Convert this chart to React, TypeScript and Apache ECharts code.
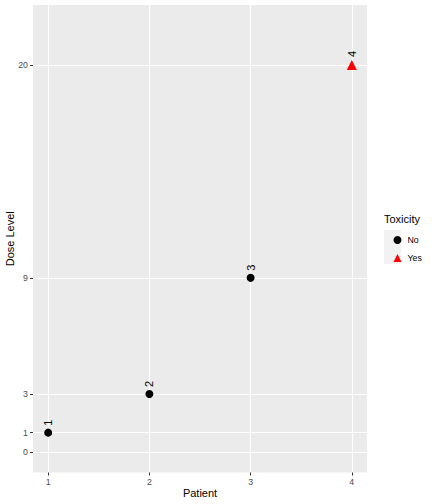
import React, { useEffect, useRef } from 'react';
import * as echarts from 'echarts';

// data
const patients = [1, 2, 3, 4];
const doseLevels = [1, 3, 9, 20];
const toxicity = ['No', 'No', 'No', 'Yes'];
const groups = ['No', 'Yes'];
const xTicks = [1, 2, 3, 4];
const yTicks = [0, 1, 3, 9, 20];

const FONT = 'Liberation Sans, Arial, sans-serif';

const App: React.FC = () => {
  const chartRef = useRef<HTMLDivElement>(null);

  useEffect(() => {
    document.body.style.margin = '0';
    if (!chartRef.current) return;
    const chart = echarts.init(chartRef.current, undefined, { renderer: 'svg' });

    const pointsFor = (group: string) =>
      patients
        .map((p, i) => ({ p, d: doseLevels[i], t: toxicity[i] }))
        .filter((r) => r.t === group)
        .map((r) => ({ value: [r.p, r.d], name: String(r.p) }));

    const gridLines = [
      ...xTicks.map((x) => ({ xAxis: x })),
      ...yTicks.map((y) => ({ yAxis: y })),
    ];

    const label = {
      show: true,
      position: 'top',
      rotate: 90,
      align: 'left',
      verticalAlign: 'middle',
      distance: 3,
      color: '#000000',
      fontSize: 11,
      fontFamily: FONT,
      formatter: (p: any) => p.name,
    };

    const option: any = {
      animation: false,
      textStyle: { fontFamily: FONT },
      grid: {
        left: 33,
        right: 65,
        top: 5,
        bottom: 31.5,
        outerBoundsMode: 'none',
        containLabel: false,
        show: true,
        backgroundColor: '#EBEBEB',
        borderWidth: 0,
      },
      xAxis: {
        type: 'value',
        min: 0.85,
        max: 4.15,
        name: 'Patient',
        nameLocation: 'middle',
        nameGap: 15,
        nameMoveOverlap: false,
        nameTextStyle: { color: '#000000', fontSize: 11, fontFamily: FONT },
        axisLine: { show: false, onZero: false },
        axisTick: { show: true, customValues: xTicks, length: 3, lineStyle: { color: '#333333' } },
        axisLabel: { customValues: xTicks, color: '#4D4D4D', fontSize: 8.8, margin: 5, fontFamily: FONT },
        splitLine: { show: false },
      },
      yAxis: {
        type: 'value',
        min: -1.06,
        max: 23.1,
        name: 'Dose Level',
        nameLocation: 'middle',
        nameRotate: 90,
        nameGap: 18,
        nameMoveOverlap: false,
        nameTextStyle: { color: '#000000', fontSize: 11, fontFamily: FONT },
        axisLine: { show: false, onZero: false },
        axisTick: { show: true, customValues: yTicks, length: 3, lineStyle: { color: '#333333' } },
        axisLabel: { customValues: yTicks, color: '#4D4D4D', fontSize: 8.8, margin: 5, fontFamily: FONT },
        splitLine: { show: false },
      },
      legend: {
        orient: 'vertical',
        left: 388.5,
        top: 230.5,
        itemWidth: 8,
        itemHeight: 8,
        itemGap: 9,
        selectedMode: false,
        textStyle: { color: '#000000', fontSize: 8.8, fontFamily: FONT, padding: [0, 0, 0, 1] },
        data: [
          { name: groups[0], icon: 'circle' },
          { name: groups[1], icon: 'triangle' },
        ],
      },
      graphic: [
        {
          type: 'text',
          left: 384,
          top: 213,
          style: { text: 'Toxicity', fill: '#000000', fontSize: 11, fontFamily: FONT },
        },
        {
          type: 'rect',
          z: -1,
          shape: { x: 384, y: 230, width: 17, height: 34 },
          style: { fill: '#F2F2F2' },
        },
      ],
      series: [
        {
          name: groups[0],
          type: 'scatter',
          symbol: 'circle',
          symbolSize: 8,
          itemStyle: { color: '#000000', opacity: 1 },
          label,
          data: pointsFor(groups[0]),
          markLine: {
            silent: true,
            symbol: 'none',
            z: 0,
            label: { show: false },
            lineStyle: { color: '#FFFFFF', width: 1.1, type: 'solid', opacity: 1 },
            data: gridLines,
          },
          z: 3,
        },
        {
          name: groups[1],
          type: 'scatter',
          symbol: 'triangle',
          symbolSize: 10,
          itemStyle: { color: '#FF0000', opacity: 1 },
          label,
          data: pointsFor(groups[1]),
          z: 3,
        },
      ],
    };

    chart.setOption(option);
    return () => {
      chart.dispose();
    };
  }, []);

  return <div ref={chartRef} style={{ width: 432, height: 504 }} />;
};

export default App;
